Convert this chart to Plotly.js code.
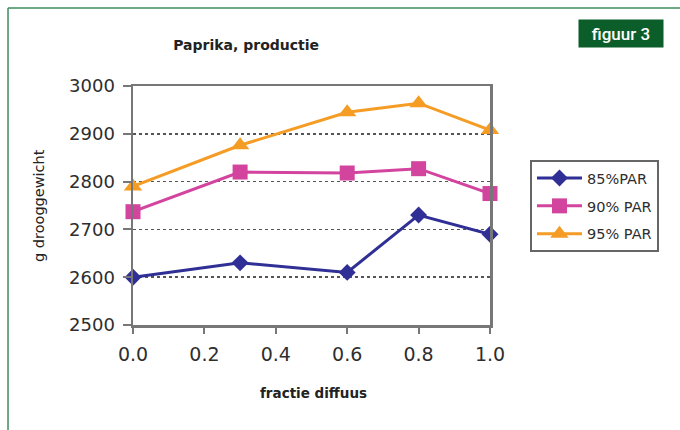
<!DOCTYPE html>
<html>
<head>
<meta charset="utf-8">
<script src="https://cdn.plot.ly/plotly-3.0.1.min.js"></script>
<style>
  html, body { margin: 0; padding: 0; background: #fff; }
  #chart { width: 680px; height: 430px; }
</style>
</head>
<body>
<div id="chart"></div>
<script>
// ---- data ----
const fractieDiffuus = [0.0, 0.3, 0.6, 0.8, 1.0];
const par85 = [2600, 2630, 2610, 2730, 2690];
const par90 = [2737, 2820, 2818, 2827, 2775];
const par95 = [2790, 2876, 2945, 2964, 2908];
const seriesNames = ['85%PAR', '90% PAR', '95% PAR'];
const xTickVals = [0.0, 0.2, 0.4, 0.6, 0.8, 1.0];
const xTickText = ['0.0', '0.2', '0.4', '0.6', '0.8', '1.0'];
const yTickVals = [2500, 2600, 2700, 2800, 2900, 3000];
const yTickText = ['2500', '2600', '2700', '2800', '2900', '3000'];

const FONT = 'DejaVu Sans, Arial, sans-serif';

function mk(y, name, color, symbol, size, group) {
  return {
    x: fractieDiffuus, y: y, name: name, type: 'scatter', mode: 'lines+markers',
    line: { color: color, width: 3 },
    marker: { color: color, symbol: symbol, size: size },
    cliponaxis: false, legendgroup: group
  };
}

const traces = [
  mk(par85, seriesNames[0], '#2f2f96', 'diamond', 13, 'a'),
  mk(par90, seriesNames[1], '#d3449f', 'square', 15, 'b'),
  mk(par95, seriesNames[2], '#f59c25', 'triangle-up', 16, 'c')
];

const layout = {
  width: 680, height: 430,
  margin: { l: 133, r: 190, t: 86, b: 105 },
  paper_bgcolor: '#ffffff', plot_bgcolor: '#ffffff',
  showlegend: true,
  title: {
    text: 'Paprika, productie',
    font: { family: FONT, size: 14, color: '#222', weight: 'bold' },
    x: 0.362, xanchor: 'center', y: 0.895, yanchor: 'middle'
  },
  xaxis: {
    range: [0, 1], tickvals: xTickVals, ticktext: xTickText,
    showgrid: false, zeroline: false,
    showline: true, linecolor: '#777', linewidth: 2.5, mirror: true,
    ticks: 'outside', ticklen: 6, tickwidth: 2, tickcolor: '#777',
    ticklabelstandoff: 5,
    tickfont: { family: FONT, size: 19, color: '#2e2e2e' }
  },
  yaxis: {
    range: [2500, 3000], tickvals: yTickVals, ticktext: yTickText,
    showgrid: true, gridcolor: '#555', gridwidth: 1.5, griddash: 'dot',
    zeroline: false,
    showline: true, linecolor: '#777', linewidth: 2.5, mirror: true,
    ticks: 'outside', ticklen: 8, tickwidth: 2, tickcolor: '#777',
    ticklabelstandoff: 4,
    tickfont: { family: FONT, size: 18, color: '#2e2e2e' }
  },
  legend: {
    x: 1.112, xanchor: 'left', y: 0.69, yanchor: 'top',
    bgcolor: '#ffffff', bordercolor: '#666', borderwidth: 2,
    font: { family: FONT, size: 14.5, color: '#2e2e2e' },
    itemwidth: 45, traceorder: 'grouped', tracegroupgap: 6
  },
  shapes: [
    { type: 'line', xref: 'paper', yref: 'paper', x0: -0.3501, x1: -0.3501, y0: -0.45, y1: 1.3264,
      line: { color: '#3d8c5c', width: 1.5 } },
    { type: 'line', xref: 'paper', yref: 'paper', x0: -0.3501, x1: 1.55, y0: 1.3264, y1: 1.3264,
      line: { color: '#3d8c5c', width: 1.5 } }
  ],
  annotations: [
    { xref: 'paper', yref: 'paper', x: 1.367, y: 1.2197, xanchor: 'center', yanchor: 'middle',
      text: 'figuur 3', showarrow: false, bgcolor: '#0b5e2a', width: 78, height: 21, borderpad: 3,
      font: { family: 'Roboto, Arial, sans-serif', size: 17, color: '#ffffff', weight: 500 } },
    // y axis title
    { xref: 'paper', yref: 'paper', x: (39 - 133) / 357, y: (325 - 206) / 239,
      xanchor: 'center', yanchor: 'middle', textangle: -90, showarrow: false,
      text: 'g drooggewicht', font: { family: FONT, size: 14.5, color: '#222' } },
    // x axis title
    { xref: 'paper', yref: 'paper', x: (313 - 133) / 357, y: (325 - 393) / 239,
      xanchor: 'center', yanchor: 'middle', showarrow: false,
      text: 'fractie diffuus', font: { family: FONT, size: 13.5, color: '#222', weight: 'bold' } }
  ]
};

Plotly.newPlot('chart', traces, layout, { staticPlot: true, displayModeBar: false });
</script>
</body>
</html>
